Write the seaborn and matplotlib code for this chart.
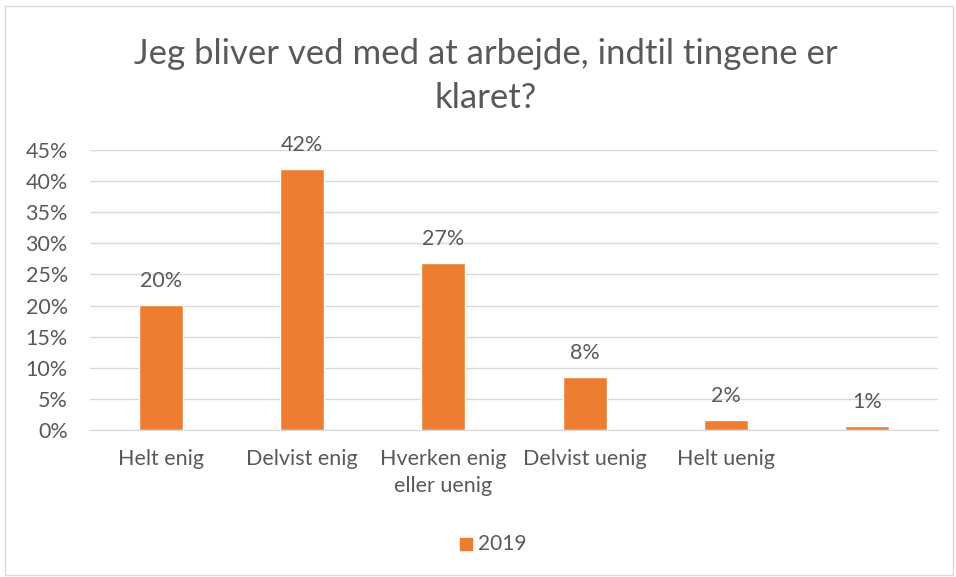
import numpy as np
import pandas as pd
import matplotlib.pyplot as plt
import seaborn as sns
from matplotlib.patches import Rectangle

# survey answers
categories = ['Helt enig', 'Delvist enig', 'Hverken enig\neller uenig', 'Delvist uenig', 'Helt uenig', '']
values = [20.1, 42.0, 26.8, 8.5, 1.6, 0.6]
labels = ['20%', '42%', '27%', '8%', '2%', '1%']
series = '2019'

df = pd.DataFrame({'svar': categories, 'andel': values, 'aar': series})

sns.set_style('white')
plt.rcParams['font.family'] = ['Lato', 'DejaVu Sans']

grey = '#595959'
orange = '#ED7D31'

fig = plt.figure(figsize=(9.56, 5.77), dpi=100)
ax = fig.add_axes([90 / 956, 1 - 430 / 577, 848 / 956, 280 / 577])

sns.barplot(data=df, x='svar', y='andel', hue='aar', palette=[orange],
            width=0.31, saturation=1, ax=ax, legend=False)

ax.set_ylim(0, 45)
ax.set_yticks(np.arange(0, 46, 5))
ax.set_yticklabels([f'{t}%' for t in range(0, 46, 5)])
ax.set_xlim(-0.5, len(categories) - 0.5)
ax.yaxis.grid(True, color='#D9D9D9', linewidth=1)
ax.set_axisbelow(True)
for s in ['top', 'right', 'left']:
    ax.spines[s].set_visible(False)
ax.spines['bottom'].set_color('#D9D9D9')
ax.tick_params(axis='both', colors=grey, labelsize=15.5, length=0)
ax.tick_params(axis='y', pad=16)
ax.tick_params(axis='x', pad=14)
for t in ax.get_xticklabels():
    t.set_color(grey)
    t.set_linespacing(1.4)
ax.set_xlabel('')
ax.set_ylabel('')

for p, lab in zip(ax.patches, labels):
    ax.annotate(lab, (p.get_x() + p.get_width() / 2, p.get_height()),
                xytext=(0, 10), textcoords='offset points', ha='center', va='bottom',
                fontsize=15.5, color=grey)

fig.text(486 / 956, 1 - 76 / 577, 'Jeg bliver ved med at arbejde, indtil tingene er\nklaret?',
         ha='center', va='center', fontsize=25, color=grey, linespacing=1.45)

# legend
fig.patches.append(Rectangle((460 / 956, 1 - 550 / 577), 12 / 956, 12 / 577,
                             transform=fig.transFigure, color=orange))
fig.text(478 / 956, 1 - 544 / 577, series, ha='left', va='center', fontsize=15, color=grey)

# chart border
fig.patches.append(Rectangle((5 / 956, 2 / 577), 948 / 956, 569 / 577, transform=fig.transFigure,
                             fill=False, edgecolor='#D9D9D9', linewidth=1))

fig.savefig('out.png', dpi=100)
